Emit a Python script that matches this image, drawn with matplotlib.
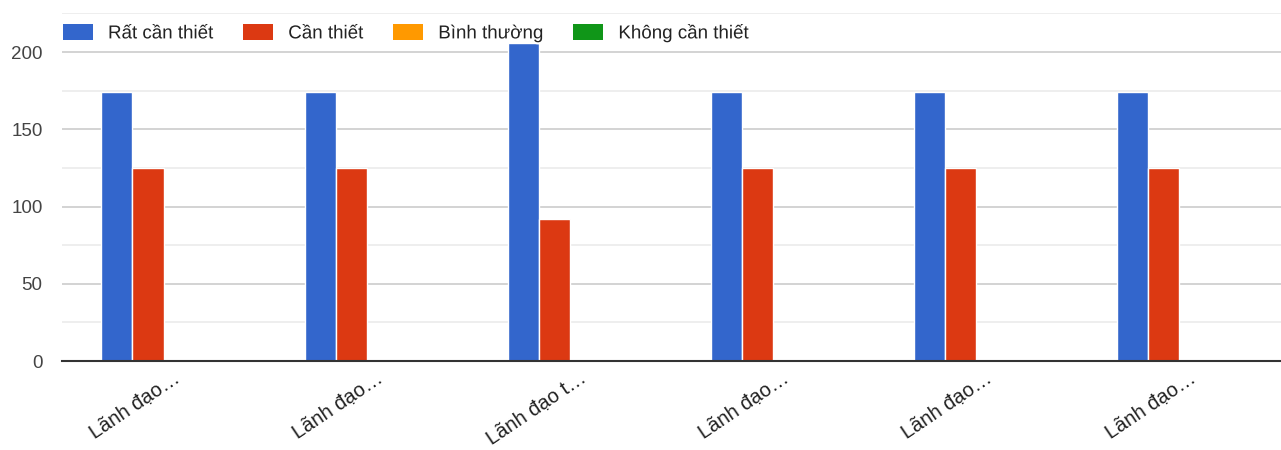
import numpy as np
import matplotlib.pyplot as plt
import matplotlib.patheffects as pe
from matplotlib.patches import Patch

plt.rcParams['font.family'] = ['Liberation Sans', 'DejaVu Sans']

categories = ['Lãnh đạo…', 'Lãnh đạo…', 'Lãnh đạo t…', 'Lãnh đạo…', 'Lãnh đạo…', 'Lãnh đạo…']
series_names = ['Rất cần thiết', 'Cần thiết', 'Bình thường', 'Không cần thiết']
rat_can_thiet = [174, 174, 206, 174, 174, 174]
can_thiet = [125, 125, 92, 125, 125, 125]
binh_thuong = [0, 0, 0, 0, 0, 0]
khong_can_thiet = [0, 0, 0, 0, 0, 0]
colors = ['#3366cc', '#dc3912', '#ff9900', '#109618']

fig = plt.figure(figsize=(12.81, 4.5), dpi=100)
ax = fig.add_axes([62 / 1281, 1 - 361 / 450, 1 - 62 / 1281, (361 - 13.4) / 450])

x = np.arange(len(categories))
w = 0.153
values = [rat_can_thiet, can_thiet, binh_thuong, khong_can_thiet]
for i, (vals, c) in enumerate(zip(values, colors)):
    ax.bar(x + (i - 1.5) * w, vals, width=w, color=c, edgecolor='white', linewidth=1, zorder=3)

ax.set_xlim(-0.5, len(categories) - 0.5)
ax.set_ylim(0, 225)
ax.set_yticks([0, 50, 100, 150, 200])
ax.set_yticks([25, 75, 125, 175, 225], minor=True)
ax.grid(axis='y', which='major', color='#cccccc', linewidth=1.2, zorder=0)
ax.grid(axis='y', which='minor', color='#ebebeb', linewidth=1.2, zorder=0)
ax.tick_params(axis='y', which='both', length=0, labelsize=13.5, labelcolor='#444444', pad=14)
for s in ['top', 'right', 'left']:
    ax.spines[s].set_visible(False)
ax.spines['bottom'].set_color('#333333')
ax.spines['bottom'].set_linewidth(1.5)
ax.spines['bottom'].set_zorder(4)

ax.set_xticks(x + 0.07)
ax.set_xticklabels(categories, rotation=34, ha='right', va='center', rotation_mode='anchor',
                   fontsize=14.5, color='#222222')
ax.tick_params(axis='x', length=0, pad=11)

handles = [Patch(facecolor=c, edgecolor='none') for c in colors]
leg = fig.legend(handles, series_names, loc='center left', bbox_to_anchor=(63 / 1281, 1 - 33 / 450),
                 ncol=4, frameon=False, fontsize=13.5, handlelength=1.6, handleheight=1.0,
                 handletextpad=0.8, columnspacing=1.6, labelcolor='#222222',
                 borderpad=0, borderaxespad=0)
for t in leg.get_texts():
    t.set_path_effects([pe.withStroke(linewidth=3, foreground='white')])

fig.savefig('out.png', dpi=100)
